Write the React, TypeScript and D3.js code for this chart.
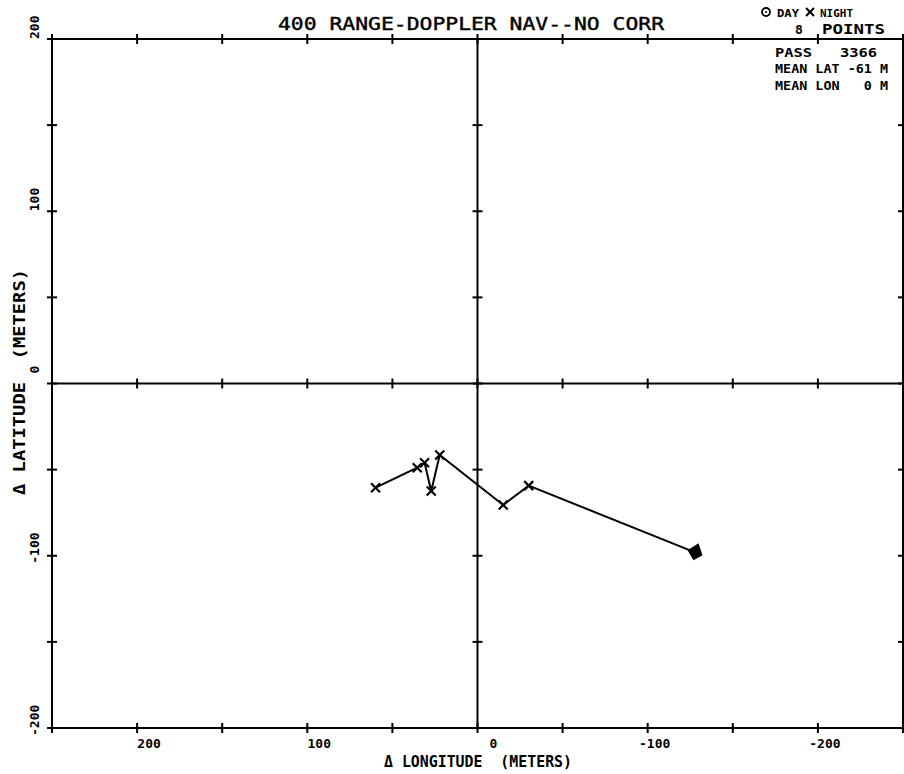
import React from 'react';
import * as d3 from 'd3';

const W = 904;
const H = 774;

// Data (meters)
const lonValues = [59.9, 35.4, 31.1, 27.2, 22.2, -15.1, -30.1, -127.5];
const latValues = [-60.5, -48.9, -46.0, -62.4, -41.5, -70.5, -59.3, -97.9];

const xTickValues = [250, 200, 150, 100, 50, 0, -50, -100, -150, -200, -250];
const xTickLabels = [200, 100, 0, -100, -200];
const yTickValues = [200, 150, 100, 50, 0, -50, -100, -150, -200];
const yTickLabels = [200, 100, 0, -100, -200];

const titleText = '400 RANGE-DOPPLER NAV--NO CORR';
const xTitle = '\u0394 LONGITUDE  (METERS)';
const yTitle = '\u0394 LATITUDE  (METERS)';
const infoLines = ['PASS   3366', 'MEAN LAT -61 M', 'MEAN LON   0 M'];

const FONT = "'DejaVu Sans Mono', 'Liberation Mono', monospace";

export default function App() {
  const x = d3.scaleLinear().domain([250, -250]).range([52, 903]);
  const y = d3.scaleLinear().domain([200, -200]).range([39, 728]);
  const pts = lonValues.map((v, i) => [v, latValues[i]] as [number, number]);
  const line = d3.line<[number, number]>().x(d => x(d[0])).y(d => y(d[1]));
  const x0 = x(0);
  const y0 = y(0);
  const [xl, xr] = x.range();
  const [yt, yb] = y.range();
  const tk = 5;
  const sw = 2;

  const hLines = [yt, yb, y0];
  const vLines = [xl, xr, x0];

  const last = pts[pts.length - 1];
  const pre = { whiteSpace: 'pre' as const };

  return (
    <div style={{ position: 'absolute', left: 0, top: 0 }}>
      <svg width={W} height={H} style={{ display: 'block', background: '#fff' }}>
        <rect x={0} y={0} width={W} height={H} fill="#fff" />
        {/* frame and zero lines */}
        {hLines.map((yy, i) => (
          <line key={'h' + i} x1={xl} x2={xr} y1={yy} y2={yy} stroke="#000" strokeWidth={sw} />
        ))}
        {vLines.map((xx, i) => (
          <line key={'v' + i} x1={xx} x2={xx} y1={yt} y2={yb} stroke="#000" strokeWidth={sw} />
        ))}
        {/* ticks on horizontal lines */}
        {hLines.map((yy, i) =>
          xTickValues.map(t => (
            <line key={'ht' + i + '_' + t} x1={x(t)} x2={x(t)} y1={yy - tk} y2={yy + tk} stroke="#000" strokeWidth={sw} />
          ))
        )}
        {/* ticks on vertical lines */}
        {vLines.map((xx, i) =>
          yTickValues.map(t => (
            <line key={'vt' + i + '_' + t} x1={xx - tk} x2={xx + tk} y1={y(t)} y2={y(t)} stroke="#000" strokeWidth={sw} />
          ))
        )}
        {/* data line */}
        <path d={line(pts) || ''} fill="none" stroke="#000" strokeWidth={2} />
        {pts.slice(0, pts.length - 1).map((p, i) => {
          const cx = x(p[0]);
          const cy = y(p[1]);
          const s = 4.5;
          return (
            <g key={'m' + i} stroke="#000" strokeWidth={2.2}>
              <line x1={cx - s} y1={cy - s} x2={cx + s} y2={cy + s} />
              <line x1={cx - s} y1={cy + s} x2={cx + s} y2={cy - s} />
            </g>
          );
        })}
        <path
          transform={`translate(${x(last[0])},${y(last[1])})`}
          d="M-7,-2 L4,-9 L8,3 L-1,8 Z"
          fill="#000"
        />
        {/* title */}
        <text x={278} y={30} fontFamily={FONT} fontSize={17} textLength={386} lengthAdjust="spacingAndGlyphs" fill="#000" stroke="#000" strokeWidth={0.4}>
          {titleText}
        </text>
        {/* legend top right */}
        <circle cx={766} cy={12} r={4} fill="none" stroke="#000" strokeWidth={1.8} />
        <circle cx={766} cy={12} r={1} fill="#000" />
        <text x={777} y={17} fontFamily={FONT} fontSize={11} fontWeight="bold" textLength={22} lengthAdjust="spacingAndGlyphs">DAY</text>
        <g stroke="#000" strokeWidth={2}>
          <line x1={806} y1={8} x2={814} y2={16} />
          <line x1={806} y1={16} x2={814} y2={8} />
        </g>
        <text x={820} y={17} fontFamily={FONT} fontSize={11} fontWeight="bold" textLength={33} lengthAdjust="spacingAndGlyphs">NIGHT</text>
        <text x={795} y={34} fontFamily={FONT} fontSize={13} fontWeight="bold">8</text>
        <text x={822} y={34} fontFamily={FONT} fontSize={14} fontWeight="bold" textLength={63} lengthAdjust="spacingAndGlyphs">POINTS</text>
        {infoLines.map((s, i) => (
          <text key={'info' + i} x={775} y={[57, 73, 90][i]} fontFamily={FONT} fontSize={13} fontWeight="bold"
            textLength={[102, 113, 113][i]} lengthAdjust="spacingAndGlyphs" fill="#000" style={pre}>
            {s}
          </text>
        ))}
        {/* x tick labels */}
        {xTickLabels.map(t => (
          <text key={'xl' + t} x={x(t) + (t > 0 ? 12 : t === 0 ? 16 : 7)} y={748} textAnchor="middle" fontFamily={FONT} fontSize={13} fontWeight="bold" fill="#000">
            {String(t)}
          </text>
        ))}
        {/* y tick labels */}
        {yTickLabels.map(t => (
          <text key={'yl' + t} transform={`translate(39,${y(t) + (t < 0 ? 8 : t === 0 ? -10 : 0)}) rotate(-90)`} textAnchor="start" fontFamily={FONT} fontSize={13} fontWeight="bold" fill="#000">
            {String(t)}
          </text>
        ))}
        {/* axis titles */}
        <text x={478} y={767} textAnchor="middle" fontFamily={FONT} fontSize={15} fontWeight="bold" textLength={188} lengthAdjust="spacingAndGlyphs" fill="#000" style={pre}>
          {xTitle}
        </text>
        <text transform={`translate(25,382) rotate(-90)`} textAnchor="middle" fontFamily={FONT} fontSize={15} fontWeight="bold" textLength={226} lengthAdjust="spacingAndGlyphs" fill="#000" style={pre}>
          {yTitle}
        </text>
      </svg>
    </div>
  );
}
